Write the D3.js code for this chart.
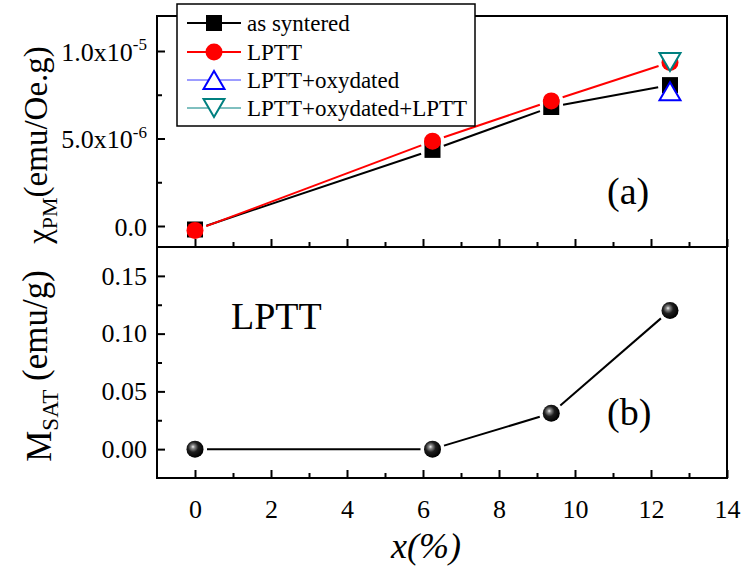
<!DOCTYPE html>
<html><head><meta charset="utf-8">
<script src="https://cdn.jsdelivr.net/npm/d3@7"></script>
<style>body{margin:0;background:#fff} text{font-family:"Liberation Serif","Times New Roman",serif;fill:#000}</style>
</head><body><svg id="c" width="741" height="567"></svg>
<script>
// ---- data ----
const xValues = [0, 6.25, 9.375, 12.5];
const asSintered = [-2e-7, 4.35e-6, 6.8e-6, 8.05e-6];
const lptt = [-2.5e-7, 4.85e-6, 7.15e-6, 9.35e-6];
const lpttOxX = [12.5];
const lpttOx = [7.7e-6];
const lpttOxLpttX = [12.5];
const lpttOxLptt = [9.37e-6];
const msat = [0, 0, 0.031, 0.12];
const xTicks = [0, 2, 4, 6, 8, 10, 12, 14];
const xMinorTicks = [1, 3, 5, 7, 9, 11, 13];
const chiTicks = [0, 5e-6, 1e-5];
const chiTickMant = ["0.0", "5.0x10", "1.0x10"];
const chiTickExp = ["", "-6", "-5"];
const chiMinorTicks = [2.5e-6, 7.5e-6];
const msatTicks = [0, 0.05, 0.10, 0.15];
const msatTickLabels = ["0.00", "0.05", "0.10", "0.15"];
const msatMinorTicks = [0.025, 0.075, 0.125];
const legendLabels = ["as syntered", "LPTT", "LPTT+oxydated", "LPTT+oxydated+LPTT"];

const svg = d3.select("#c");
const L = 157, R = 727, T = 16, M = 247, B = 478;
const x = d3.scaleLinear([-1, 14], [L, R]);
const yTop = d3.scaleLinear([-1.2e-6, 1.2e-5], [M, T]);
const yBot = d3.scaleLinear([-0.025, 0.175], [B, M]);

// defs: sphere gradient
const defs = svg.append("defs");
const grad = defs.append("radialGradient").attr("id", "sph")
  .attr("cx", "40%").attr("cy", "40%").attr("r", "60%").attr("fx", "38%").attr("fy", "36%");
grad.append("stop").attr("offset", "0%").attr("stop-color", "#f4f4f4");
grad.append("stop").attr("offset", "18%").attr("stop-color", "#8a8a8a");
grad.append("stop").attr("offset", "50%").attr("stop-color", "#1e1e1e");
grad.append("stop").attr("offset", "100%").attr("stop-color", "#000");

// ---- axes ----
function styleAxis(g) {
  g.attr("font-family", null);
  g.select(".domain").remove();
  g.selectAll("line").attr("stroke", "#000").attr("stroke-width", 2);
  g.selectAll("text").style("font-family", '"Liberation Serif", serif').style("font-size", "26px").attr("fill", "#000");
}
// top panel y
const gyt = svg.append("g").attr("transform", `translate(${L},0)`)
  .call(d3.axisLeft(yTop).tickValues(chiTicks).tickSize(-8).tickPadding(10).tickFormat(() => ""));
styleAxis(gyt);
gyt.selectAll(".tick text").each(function(d, i) {
  const t = d3.select(this).attr("dy", "0.35em");
  t.append("tspan").text(chiTickMant[i]);
  if (chiTickExp[i]) t.append("tspan").attr("dy", "-0.6em").style("font-size", "17px").text(chiTickExp[i]);
});
const gytm = svg.append("g").attr("transform", `translate(${L},0)`)
  .call(d3.axisLeft(yTop).tickValues(chiMinorTicks).tickSize(-5).tickFormat(() => ""));
styleAxis(gytm);
// top panel x ticks (at the boundary)
const gxt = svg.append("g").attr("transform", `translate(0,${M})`)
  .call(d3.axisBottom(x).tickValues(xTicks).tickSize(-8).tickFormat(() => ""));
styleAxis(gxt);
const gxtm = svg.append("g").attr("transform", `translate(0,${M})`)
  .call(d3.axisBottom(x).tickValues(xMinorTicks).tickSize(-5).tickFormat(() => ""));
styleAxis(gxtm);
// bottom panel y
const gyb = svg.append("g").attr("transform", `translate(${L},0)`)
  .call(d3.axisLeft(yBot).tickValues(msatTicks).tickSize(-8).tickPadding(10).tickFormat((d, i) => msatTickLabels[i]));
styleAxis(gyb);
const gybm = svg.append("g").attr("transform", `translate(${L},0)`)
  .call(d3.axisLeft(yBot).tickValues(msatMinorTicks).tickSize(-5).tickFormat(() => ""));
styleAxis(gybm);
// bottom x
const gxb = svg.append("g").attr("transform", `translate(0,${B})`)
  .call(d3.axisBottom(x).tickValues(xTicks).tickSize(-8).tickPadding(22));
styleAxis(gxb);
const gxbm = svg.append("g").attr("transform", `translate(0,${B})`)
  .call(d3.axisBottom(x).tickValues(xMinorTicks).tickSize(-5).tickFormat(() => ""));
styleAxis(gxbm);

// frames
svg.append("rect").attr("x", L).attr("y", T).attr("width", R - L).attr("height", M - T)
  .attr("fill", "none").attr("stroke", "#000").attr("stroke-width", 2);
svg.append("rect").attr("x", L).attr("y", M).attr("width", R - L).attr("height", B - M)
  .attr("fill", "none").attr("stroke", "#000").attr("stroke-width", 2);

// ---- lines with gaps ----
function gapLine(xs, ys, yScale, gap, color, width) {
  for (let i = 0; i < xs.length - 1; i++) {
    const x1 = x(xs[i]), y1 = yScale(ys[i]), x2 = x(xs[i + 1]), y2 = yScale(ys[i + 1]);
    const dx = x2 - x1, dy = y2 - y1, len = Math.hypot(dx, dy);
    if (len <= 2 * gap) continue;
    const ux = dx / len, uy = dy / len;
    svg.append("line")
      .attr("x1", x1 + ux * gap).attr("y1", y1 + uy * gap)
      .attr("x2", x2 - ux * gap).attr("y2", y2 - uy * gap)
      .attr("stroke", color).attr("stroke-width", width);
  }
}
function square(g, cx, cy) {
  g.append("rect").attr("x", cx - 8).attr("y", cy - 8).attr("width", 16).attr("height", 16).attr("fill", "#000");
}
function circle(g, cx, cy) {
  g.append("circle").attr("cx", cx).attr("cy", cy).attr("r", 8.5).attr("fill", "#ff0000");
}
function triUp(g, cx, cy) {
  g.append("path").attr("d", `M${cx},${cy - 9}L${cx + 10.5},${cy + 9}L${cx - 10.5},${cy + 9}Z`)
    .attr("fill", "#fff").attr("stroke", "#0000ff").attr("stroke-width", 2);
}
function triDown(g, cx, cy) {
  g.append("path").attr("d", `M${cx - 10.5},${cy - 9}L${cx + 10.5},${cy - 9}L${cx},${cy + 9}Z`)
    .attr("fill", "#fff").attr("stroke", "#008080").attr("stroke-width", 2);
}

gapLine(xValues, asSintered, yTop, 12, "#000", 2);
xValues.forEach((v, i) => square(svg, x(v), yTop(asSintered[i])));
gapLine(xValues, lptt, yTop, 12, "#ff0000", 2);
xValues.forEach((v, i) => circle(svg, x(v), yTop(lptt[i])));
lpttOxX.forEach((v, i) => triUp(svg, x(v), yTop(lpttOx[i])));
lpttOxLpttX.forEach((v, i) => triDown(svg, x(v), yTop(lpttOxLptt[i])));

gapLine(xValues, msat, yBot, 12, "#000", 2);
xValues.forEach((v, i) => svg.append("circle").attr("cx", x(v)).attr("cy", yBot(msat[i])).attr("r", 8.5).attr("fill", "url(#sph)"));

// ---- legend ----
const lg = svg.append("g");
lg.append("rect").attr("x", 177).attr("y", 4).attr("width", 298).attr("height", 122)
  .attr("fill", "#fff").attr("stroke", "#000").attr("stroke-width", 1.5);
const rowY = [23, 52, 80, 108];
const legColors = ["#000", "#ff0000", "#3b3bff", "#008080"];
const legWidths = [2, 2, 1, 1];
const legMarkers = [square, circle, triUp, triDown];
legendLabels.forEach((lab, i) => {
  lg.append("line").attr("x1", 187).attr("x2", 241).attr("y1", rowY[i]).attr("y2", rowY[i])
    .attr("stroke", legColors[i]).attr("stroke-width", legWidths[i]);
  legMarkers[i](lg, 214, rowY[i]);
  lg.append("text").attr("x", 247).attr("y", rowY[i]).attr("dy", "0.35em")
    .style("font-size", "23px").text(lab);
});

// ---- annotations ----
svg.append("text").attr("x", 607).attr("y", 204).style("font-size", "38px").text("(a)");
svg.append("text").attr("x", 607).attr("y", 425).style("font-size", "38px").text("(b)");
svg.append("text").attr("x", 231).attr("y", 329).style("font-size", "38px").text("LPTT");

// axis titles
const t1 = svg.append("text").attr("transform", "translate(50,145) rotate(-90)")
  .attr("text-anchor", "middle").style("font-size", "33px");
t1.append("tspan").text("χ");
t1.append("tspan").attr("dy", "0.3em").style("font-size", "22px").text("PM");
t1.append("tspan").attr("dy", "-0.3em").text("(emu/Oe.g)");
const t2 = svg.append("text").attr("transform", "translate(51,366) rotate(-90)")
  .attr("text-anchor", "middle").style("font-size", "35px");
t2.append("tspan").text("M");
t2.append("tspan").attr("dy", "0.3em").style("font-size", "23px").text("SAT");
t2.append("tspan").attr("dy", "-0.3em").text(" (emu/g)");
svg.append("text").attr("x", 426).attr("y", 558).attr("text-anchor", "middle")
  .style("font-size", "36px").style("font-style", "italic").text("x(%)");
</script></body></html>
